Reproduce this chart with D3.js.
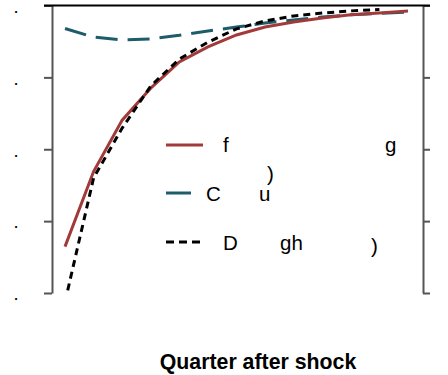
<!DOCTYPE html>
<html>
<head>
<meta charset="utf-8">
<script src="https://cdn.jsdelivr.net/npm/d3@7"></script>
<style>
  html, body { margin: 0; padding: 0; background: #fff; }
  svg { display: block; font-family: "Liberation Sans", Arial, sans-serif; }
</style>
</head>
<body>
<svg id="chart" width="448" height="375"></svg>
<script>
// Quarters after the shock
const quarters = [1, 2, 3, 4, 5, 6, 7, 8, 9, 10, 11, 12, 13];

// Impulse responses, one array per series
const redSeries   = [-0.671, -0.462, -0.319, -0.230, -0.157, -0.115, -0.082, -0.060, -0.046, -0.035, -0.026, -0.021, -0.015];
const tealSeries  = [-0.064, -0.088, -0.096, -0.093, -0.083, -0.071, -0.060, -0.049, -0.040, -0.032, -0.026, -0.022, -0.018];
const blackSeries = [-0.825, -0.480, -0.341, -0.224, -0.149, -0.102, -0.065, -0.043, -0.029, -0.021, -0.015, -0.011];

// Y axis ticks and their labels
const yTicks = [0, -0.2, -0.4, -0.6, -0.8];
const yTickLabels = [".", ".", ".", ".", "."];

// Legend text fragments per entry
const legendRed   = ["f", "g", ")"];
const legendTeal  = ["C", "u"];
const legendBlack = ["D", "gh", ")"];

const xTitle = "Quarter after shock";

const svg = d3.select("#chart");
const plotLeft = 52, plotRight = 423, plotTop = 5.5, plotBottom = 293;

const x = d3.scaleLinear().domain([1, 13]).range([65, 408]);
const y = d3.scaleLinear().domain([-0.8, 0]).range([plotBottom, plotTop]);

svg.append("defs").append("clipPath").attr("id", "plotClip")
  .append("rect").attr("x", plotLeft).attr("y", plotTop)
  .attr("width", plotRight - plotLeft).attr("height", plotBottom - plotTop + 1);

// Left and right axes with outward ticks, no labels on the right
const axisColor = "#555";
const leftAxis = svg.append("g").attr("transform", `translate(${plotLeft},0)`)
  .call(d3.axisLeft(y).tickValues(yTicks).tickSize(8).tickSizeOuter(0).tickFormat((d, i) => yTickLabels[i]));
const rightAxis = svg.append("g").attr("transform", `translate(${plotRight},0)`)
  .call(d3.axisRight(y).tickValues(yTicks).tickSize(7).tickSizeOuter(0).tickFormat(""));
[leftAxis, rightAxis].forEach(g => {
  g.select(".domain").attr("stroke", axisColor).attr("stroke-width", 2);
  g.selectAll(".tick line").attr("stroke", axisColor).attr("stroke-width", 2);
});
leftAxis.selectAll(".tick text")
  .attr("x", -36).attr("y", 6.8).attr("dy", null).attr("text-anchor", "middle")
  .attr("font-size", 13).attr("font-weight", "bold").attr("fill", "#000");

// Top border
svg.append("line").attr("x1", 44).attr("x2", 430).attr("y1", y(0)).attr("y2", y(0))
  .attr("stroke", "#000").attr("stroke-width", 2.2);

const plot = svg.append("g").attr("clip-path", "url(#plotClip)");
const line = d3.line().x((d, i) => x(quarters[i])).y(d => y(d));

plot.append("path").datum(tealSeries).attr("d", line)
  .attr("fill", "none").attr("stroke", "#1f5c6b").attr("stroke-width", 3)
  .attr("stroke-dasharray", "22 10");
plot.append("path").datum(redSeries).attr("d", line)
  .attr("fill", "none").attr("stroke", "#a33a3a").attr("stroke-width", 3);
plot.append("path").datum(blackSeries).attr("d", line)
  .attr("fill", "none").attr("stroke", "#000").attr("stroke-width", 3)
  .attr("stroke-dasharray", "7 5");

// Legend
const lg = svg.append("g").attr("font-size", 20.5).attr("fill", "#000");
lg.append("line").attr("x1", 166).attr("x2", 203).attr("y1", 145).attr("y2", 145)
  .attr("stroke", "#a33a3a").attr("stroke-width", 3);
lg.append("line").attr("x1", 166).attr("x2", 191).attr("y1", 193).attr("y2", 193)
  .attr("stroke", "#1f5c6b").attr("stroke-width", 3);
lg.append("line").attr("x1", 166).attr("x2", 200).attr("y1", 242).attr("y2", 242)
  .attr("stroke", "#000").attr("stroke-width", 3).attr("stroke-dasharray", "8 5");

const legendText = [
  [legendRed[0], 223, 152], [legendRed[1], 385, 152], [legendRed[2], 267, 181],
  [legendTeal[0], 206, 201], [legendTeal[1], 259, 201],
  [legendBlack[0], 223, 250], [legendBlack[1], 280, 250], [legendBlack[2], 371, 253]
];
lg.selectAll("text").data(legendText).join("text")
  .attr("x", d => d[1]).attr("y", d => d[2]).text(d => d[0]);

// X axis title
svg.append("text").attr("x", 258).attr("y", 369).attr("text-anchor", "middle")
  .attr("font-size", 21.3).attr("font-weight", "bold").text(xTitle);
</script>
</body>
</html>
